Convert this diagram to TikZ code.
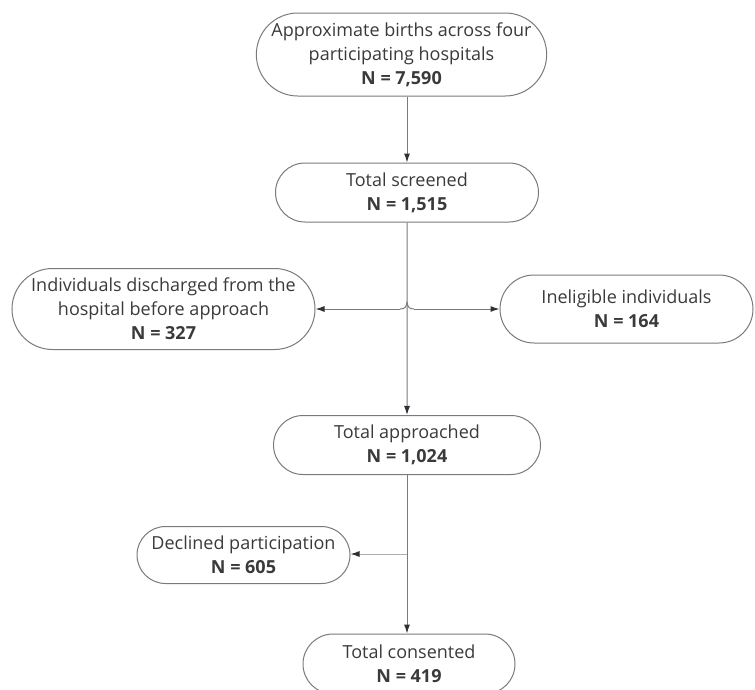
\documentclass[tikz,border=0pt]{standalone}
\usepackage{fontspec}
\setmainfont{Open Sans}
\usetikzlibrary{shapes.misc,arrows.meta}
\definecolor{boxline}{HTML}{7A7A7A}
\definecolor{textgray}{HTML}{3A3A3A}
\definecolor{tipdark}{HTML}{2E3038}
\begin{document}
\begin{tikzpicture}[x=1pt,y=-1pt,
    stage/.style={draw=boxline,line width=1pt,rounded rectangle,inner sep=0pt,
        align=center,text=textgray,font=\fontsize{18}{24}\selectfont},
    flow/.style={draw=boxline,line width=1pt,-{Latex[length=9pt,width=6pt,color=tipdark]}},
    thin flow/.style={flow,draw=boxline!60}]
        \useasboundingbox (0,0) rectangle (755,689);
        % boxes
        \node[stage,minimum width=283pt,minimum height=83pt] (births) at (401.5,54.5)
            {Approximate births across four\\participating hospitals\\\textbf{N = 7,590}};
        \node[stage,minimum width=263pt,minimum height=59pt] (screened) at (407,192.5)
            {Total screened\\\textbf{N = 1,515}};
        \node[stage,minimum width=303pt,minimum height=81pt] (discharged) at (163.5,309)
            {Individuals discharged from the\\hospital before approach\\\textbf{N = 327}};
        \node[stage,minimum width=253pt,minimum height=68pt] (ineligible) at (626.5,309)
            {Ineligible individuals\\\textbf{N = 164}};
        \node[stage,minimum width=267pt,minimum height=59pt] (approached) at (407,445)
            {Total approached\\\textbf{N = 1,024}};
        \node[stage,minimum width=213pt,minimum height=57pt] (declined) at (243.5,555)
            {Declined participation\\\textbf{N = 605}};
        \node[stage,minimum width=212pt,minimum height=60pt] (consented) at (409,664)
            {Total consented\\\textbf{N = 419}};
        % connectors
        \coordinate (hopL) at (400,309);
        \coordinate (hopR) at (414,309);
        \coordinate (hopT) at (407,302.5);
        \coordinate (split) at (407,554);
        \draw[flow] (births.south -| screened.north) -- (screened.north);
        \draw[flow] (screened) -- (approached);
        \draw[draw=boxline,line width=1pt] (hopL) .. controls (405,309) and (406,307) .. (hopT)
            .. controls (408,307) and (409,309) .. (hopR);
        \draw[flow] (hopL) -- (hopL -| discharged.east);
        \draw[flow] (hopR) -- (hopR -| ineligible.west);
        \draw[flow] (approached.south) -- (approached.south |- consented.north);
        \draw[thin flow] (split) -- (split -| declined.east);
\end{tikzpicture}
\end{document}
